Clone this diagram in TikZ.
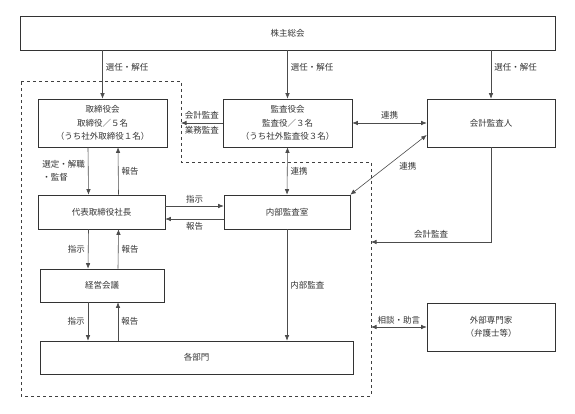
\documentclass[tikz,border=0pt]{standalone}
\usepackage{fontspec}
\newfontfamily\jp{Noto Sans CJK JP}
\usepackage{tikz}
\usetikzlibrary{positioning,arrows.meta}

\begin{document}
\begin{tikzpicture}[
	x=1pt,y=-1pt
	,every node/.append style={font=\jp\fontsize{8.5}{13.5}\selectfont, text=black!80}
	,>={Latex[length=5.5pt,width=4.5pt]}
	,box/.style={draw=black!80, line width=.6pt, align=center, inner sep=0pt, minimum height=#1}
	,box/.default=48pt
	,ln/.style={draw=black!70, line width=.6pt}
	,lab/.style={inner sep=3pt}
]
	\useasboundingbox (0,0) rectangle (575,414);
	% boxes
	\node [box=34pt, minimum width=535pt] (A) at (287.5,33) {株主総会};
	\node [box, minimum width=129pt] (B) at (102.5,123) {取締役会\\取締役／５名\\（うち社外取締役１名）};
	\node [box, minimum width=129pt] (C) at (287.5,123) {監査役会\\監査役／３名\\（うち社外監査役３名）};
	\node [box, minimum width=128pt] (D) at (491,123) {会計監査人};
	\node [box=34pt, minimum width=127pt] (E) at (101.5,212) {代表取締役社長};
	\node [box=34pt, minimum width=126pt] (F) at (287,212) {内部監査室};
	\node [box=33pt, minimum width=124pt] (G) at (102,285.5) {経営会議};
	\node [box=33pt, minimum width=313pt] (H) at (196.5,357.5) {各部門};
	\node [box, minimum width=128pt] (I) at (491,327) {外部専門家\\（弁護士等）};
	% dashed border
	\draw [black!75, line width=.6pt, dashed] (21,81) -- (181,81) -- (181,162) -- (371,162) -- (371,396) -- (21,396) -- cycle;
	\coordinate (p1) at (181,123);
	\coordinate (p2) at (371,242);
	\coordinate (p3) at (371,327);
	% arrows
	\draw [ln, ->] (B.north |- A.south) -- node [lab, right, pos=.35] {選任・解任} (B.north);
	\draw [ln, ->] (C.north |- A.south) -- node [lab, right, pos=.35] {選任・解任} (C.north);
	\draw [ln, ->] (D.north |- A.south) -- node [lab, right, pos=.35] {選任・解任} (D.north);
	\draw [ln, ->] (C.west) -- node [lab, above] {会計監査} node [lab, below] {業務監査} (p1);
	\draw [ln, <->] (C.east) -- node [lab, above] {連携} (D.west);
	\draw [ln, ->] ([xshift=-14.5pt]B.south) -- node [lab, left, align=left] {選定・解職\\・監督} ([xshift=-13pt]E.north);
	\draw [ln, <-] ([xshift=15.5pt]B.south) -- node [lab, right] {報告} ([xshift=17pt]E.north);
	\draw [ln, ->] ([yshift=6pt]E.east) -- node [lab, above] {指示} ([yshift=6pt]F.west);
	\draw [ln, <-] ([yshift=-7pt]E.east) -- node [lab, below] {報告} ([yshift=-7pt]F.west);
	\draw [ln, <->] (C.south) -- node [lab, right] {連携} (F.north);
	\draw [ln, <->] ([yshift=-12pt]D.west) -- node [lab, below right, pos=.4] {連携} (F.north east);
	\draw [ln, ->] (D.south) |- node [lab, above, pos=.75] {会計監査} (p2);
	\draw [ln, ->] ([xshift=-13pt]E.south) -- node [lab, left] {指示} ([xshift=-14pt]G.north);
	\draw [ln, <-] ([xshift=17pt]E.south) -- node [lab, right] {報告} ([xshift=16pt]G.north);
	\draw [ln, ->] ([xshift=-14pt]G.south) -- node [lab, left] {指示} ([xshift=-14pt]G.south |- H.north);
	\draw [ln, <-] ([xshift=16pt]G.south) -- node [lab, right] {報告} ([xshift=16pt]G.south |- H.north);
	\draw [ln, ->] (F.south) -- node [lab, right, pos=.5] {内部監査} (F.south |- H.north);
	\draw [ln, <->] (p3) -- node [lab, above] {相談・助言} (I.west);
\end{tikzpicture}
\end{document}
